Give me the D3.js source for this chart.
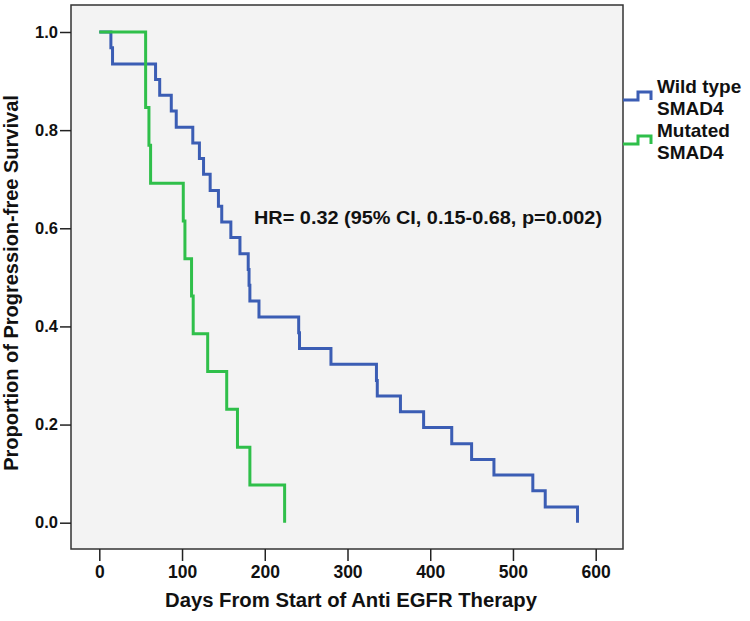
<!DOCTYPE html>
<html>
<head>
<meta charset="utf-8">
<script src="https://cdn.jsdelivr.net/npm/d3@7/dist/d3.min.js"></script>
<style>
  html, body { margin: 0; padding: 0; background: #ffffff; }
  svg { display: block; }
  text { font-family: "Liberation Sans", Arial, sans-serif; font-weight: bold; fill: #111; }
</style>
</head>
<body>
<svg id="chart" width="750" height="621"></svg>
<script>
const wildTimes = [0, 14, 16, 68, 73, 87, 93, 113, 121, 126, 134, 144, 148, 159, 170, 180, 181, 182, 193, 241, 242, 280, 335, 336, 364, 392, 426, 450, 477, 524, 539, 578];
const wildSurv  = [1.0, 0.968, 0.935, 0.903, 0.871, 0.839, 0.806, 0.774, 0.742, 0.710, 0.677, 0.645, 0.613, 0.581, 0.548, 0.516, 0.484, 0.452, 0.419, 0.387, 0.355, 0.323, 0.290, 0.258, 0.226, 0.194, 0.161, 0.129, 0.097, 0.065, 0.032, 0.0];

const mutTimes = [0, 56, 60, 62, 101.5, 103.5, 111.5, 113.5, 131, 154, 167, 182, 224];
const mutSurv  = [1.0, 0.846, 0.769, 0.692, 0.615, 0.538, 0.462, 0.385, 0.308, 0.231, 0.154, 0.077, 0.0];

const xTicks = [0, 100, 200, 300, 400, 500, 600];
const yTicks = [0.0, 0.2, 0.4, 0.6, 0.8, 1.0];

const seriesNames = [["Wild type", "SMAD4"], ["Mutated", "SMAD4"]];
const seriesColors = ["#3b5db4", "#2fbf4a"];

const xTitle = "Days From Start of Anti EGFR Therapy";
const yTitle = "Proportion of Progression-free Survival";
const hrText = "HR= 0.32 (95% CI, 0.15-0.68, p=0.002)";

// ---- Layout ----
const svg = d3.select("#chart");
const frame = { left: 71, top: 5, right: 623, bottom: 549 };

const x = d3.scaleLinear().domain([0, 600]).range([99.3, 595.7]);
const y = d3.scaleLinear().domain([0, 1]).range([522.7, 32]);

// plot background + frame
svg.append("rect")
  .attr("x", frame.left).attr("y", frame.top)
  .attr("width", frame.right - frame.left).attr("height", frame.bottom - frame.top)
  .attr("fill", "#f3f3f3").attr("stroke", "#333").attr("stroke-width", 1.5);

// axes
const yAxis = d3.axisLeft(y).tickValues(yTicks).tickFormat(d3.format(".1f")).tickSize(11).tickPadding(2);
const gy = svg.append("g").attr("transform", `translate(${frame.left},0)`).call(yAxis);
gy.select(".domain").remove();
gy.selectAll(".tick line").attr("stroke", "#222").attr("stroke-width", 1.5);
gy.selectAll(".tick text").style("font-size", "16.5px").attr("fill", "#111");

const xAxis = d3.axisBottom(x).tickValues(xTicks).tickFormat(d3.format("d")).tickSize(12).tickPadding(5);
const gx = svg.append("g").attr("transform", `translate(0,${frame.bottom})`).call(xAxis);
gx.select(".domain").remove();
gx.selectAll(".tick line").attr("stroke", "#222").attr("stroke-width", 1.5);
gx.selectAll(".tick text").style("font-size", "17.5px").attr("fill", "#111");

// curves
const line = d3.line().x(d => x(d[0])).y(d => y(d[1])).curve(d3.curveStepAfter);
const series = [
  d3.zip(wildTimes, wildSurv),
  d3.zip(mutTimes, mutSurv)
];
series.forEach((s, i) => {
  svg.append("path").datum(s)
    .attr("d", line)
    .attr("fill", "none")
    .attr("stroke", seriesColors[i])
    .attr("stroke-width", 3)
    .attr("stroke-linejoin", "miter");
});

// titles
svg.append("text")
  .attr("x", 165).attr("y", 607)
  .attr("textLength", 372).attr("lengthAdjust", "spacingAndGlyphs")
  .style("font-size", "20px")
  .text(xTitle);

svg.append("text")
  .attr("transform", `translate(18,${(frame.top + frame.bottom) / 2 + 6}) rotate(-90)`)
  .attr("text-anchor", "middle")
  .style("font-size", "20px")
  .text(yTitle);

// hazard ratio annotation
svg.append("text")
  .attr("x", 254).attr("y", 224)
  .attr("textLength", 348).attr("lengthAdjust", "spacingAndGlyphs")
  .style("font-size", "19px")
  .text(hrText);

// legend
const legendY = [100, 144];
legendY.forEach((ly, i) => {
  const x0 = frame.right;
  svg.append("path")
    .attr("d", `M${x0},${ly} H${x0 + 15} V${ly - 8} H${x0 + 28} V${ly}`)
    .attr("fill", "none")
    .attr("stroke", seriesColors[i])
    .attr("stroke-width", 3);
  const t = svg.append("text").attr("x", 657).style("font-size", "19px");
  t.append("tspan").attr("x", 657).attr("y", ly - 7).text(seriesNames[i][0]);
  t.append("tspan").attr("x", 657).attr("y", ly + 15).text(seriesNames[i][1]);
});
</script>
</body>
</html>
